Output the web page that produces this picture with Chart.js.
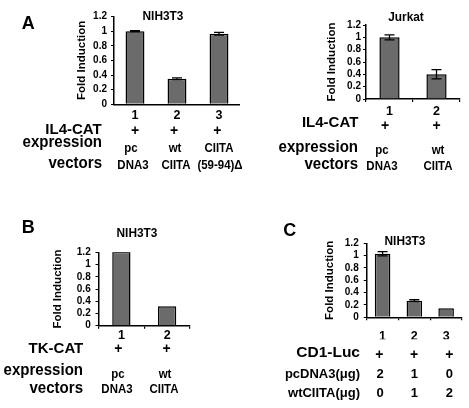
<!DOCTYPE html>
<html><head><meta charset="utf-8">
<script src="https://cdn.jsdelivr.net/npm/chart.js@4.4.1/dist/chart.umd.min.js"></script>
<style>
html,body{margin:0;padding:0;background:#fff;}
#fig{position:relative;width:469px;height:408px;overflow:hidden;background:#fff;font-family:"Liberation Sans",Arial,Helvetica,sans-serif;font-weight:bold;color:#000;}
#fig canvas{position:absolute;}
.t{position:absolute;white-space:nowrap;}
</style></head><body><div id="fig"></div>
<script>
// ---------------- data ----------------
const yTickLabels = ['0','0.2','0.4','0.6','0.8','1','1.2'];

const a1Labels = ['1','2','3'];
const a1Values = [1.0, 0.35, 0.965];
const a1Errors = [0.005, 0.012, 0.018];
const a1RowHeader = 'IL4-CAT';
const a1Plus = ['+','+','+'];
const a1VecTop = ['pc','wt','CIITA'];
const a1VecBottom = ['DNA3','CIITA','(59-94)Δ'];

const a2Labels = ['1','2'];
const a2Values = [1.0, 0.40];
const a2Errors = [0.04, 0.075];
const a2RowHeader = 'IL4-CAT';
const a2Plus = ['+','+'];
const a2VecTop = ['pc','wt'];
const a2VecBottom = ['DNA3','CIITA'];

const bLabels = ['1','2'];
const bValues = [1.21, 0.32];
const bErrors = [0, 0];
const bRowHeader = 'TK-CAT';
const bPlus = ['+','+'];
const bVecTop = ['pc','wt'];
const bVecBottom = ['DNA3','CIITA'];

const cLabels = ['1','2','3'];
const cValues = [1.03, 0.27, 0.145];
const cErrors = [0.035, 0.015, 0];
const cRowHeader = 'CD1-Luc';
const cPlus = ['+','+','+'];
const cPcDNA3 = ['2','1','0'];
const cWtCIITA = ['0','1','2'];

const yTitle = 'Fold Induction';

// ---------------- drawing ----------------
const fig = document.getElementById('fig');
Chart.defaults.font.family = '"Liberation Sans", Arial, Helvetica, sans-serif';

function txt(s, x, base, size, align, sx) {
  sx = sx || 1;
  const d = document.createElement('div');
  d.className = 't';
  d.textContent = s;
  d.style.fontSize = size + 'px';
  d.style.lineHeight = size + 'px';
  d.style.top = (base - 0.846 * size) + 'px';
  d.style.left = x + 'px';
  let tx = 0, ox = '0%';
  if (align === 'center') { tx = -50; ox = '50%'; }
  else if (align === 'right') { tx = -100; ox = '100%'; }
  d.style.transformOrigin = ox + ' 0';
  d.style.transform = 'translateX(' + tx + '%) scaleX(' + sx + ')';
  fig.appendChild(d);
}
function row(arr, xs, base, size, sx) { arr.forEach((s, i) => txt(s, xs[i], base, size, 'center', sx)); }

const errorBarPlugin = {
  id: 'errbars',
  afterDatasetsDraw(chart) {
    const ds = chart.data.datasets[0];
    const meta = chart.getDatasetMeta(0);
    const ys = chart.scales.y;
    const ctx = chart.ctx;
    ctx.save();
    ctx.strokeStyle = '#000';
    ctx.lineWidth = 1.3;
    meta.data.forEach((bar, i) => {
      const e = ds.errorBars ? ds.errorBars[i] : 0;
      if (!e) return;
      const v = ds.data[i];
      const yt = ys.getPixelForValue(v + e), yb = ys.getPixelForValue(v - e);
      const cw = 5;
      ctx.beginPath();
      ctx.moveTo(bar.x, yt); ctx.lineTo(bar.x, yb);
      ctx.moveTo(bar.x - cw, yt); ctx.lineTo(bar.x + cw, yt);
      ctx.moveTo(bar.x - cw, yb); ctx.lineTo(bar.x + cw, yb);
      ctx.stroke();
    });
    ctx.restore();
  }
};

function panel(cfg) {
  const c = document.createElement('canvas');
  c.width = cfg.box.w; c.height = cfg.box.h;
  c.style.left = cfg.box.x + 'px'; c.style.top = cfg.box.y + 'px';
  c.style.width = cfg.box.w + 'px'; c.style.height = cfg.box.h + 'px';
  fig.appendChild(c);
  const a = cfg.area;
  const L = a.left - cfg.box.x, T = a.top - cfg.box.y, R = a.right - cfg.box.x, B = a.bottom - cfg.box.y;
  const tSize = 11.5;
  const yW = L - (cfg.yTitleX - cfg.box.x) + tSize * 1.2 / 2;
  const xH = 22;
  return new Chart(c, {
    type: 'bar',
    data: { labels: cfg.labels, datasets: [{
      data: cfg.values, errorBars: cfg.errors,
      backgroundColor: '#6b6b6b', borderColor: '#000', borderWidth: 1.5,
      barPercentage: cfg.barPct, categoryPercentage: 1 }] },
    options: {
      responsive: false, animation: false, devicePixelRatio: 1,
      layout: { padding: { left: L - yW, top: T, right: cfg.box.w - R, bottom: cfg.box.h - B - xH } },
      plugins: { legend: { display: false }, tooltip: { enabled: false }, title: { display: false } },
      scales: {
        x: {
          grid: { display: cfg.xTick > 0, drawOnChartArea: false, drawTicks: cfg.xTick > 0, tickLength: cfg.xTick, color: '#000', lineWidth: 1.2 },
          border: { display: true, color: '#000', width: 1.5 },
          ticks: { color: '#000', padding: cfg.xPad, maxRotation: 0, autoSkip: false, font: { size: 12.5, weight: 'bold', lineHeight: 1 } },
          afterFit: s => { s.height = xH; }
        },
        y: {
          min: 0, max: 1.2,
          ticks: { stepSize: 0.2, autoSkip: false, color: '#000', padding: cfg.yPad, font: { size: 10, weight: 'bold', lineHeight: 1 },
                   callback: v => yTickLabels[Math.round(v * 5)] },
          grid: { drawOnChartArea: false, drawTicks: true, tickLength: 3, color: '#000', lineWidth: 1 },
          border: { display: true, color: '#000', width: 1.5 },
          title: { display: true, text: yTitle, color: '#000', padding: 0, font: { size: tSize, weight: 'bold' } },
          afterFit: s => { s.width = yW; }
        }
      }
    },
    plugins: [errorBarPlugin]
  });
}

// Panel A left (NIH3T3)
panel({ box: {x:0, y:0, w:240, h:200}, area: {left:114, top:16.5, right:240, bottom:104.3},
  yTitleX: 82, labels: a1Labels, values: a1Values, errors: a1Errors, barPct: 0.45, xTick: 0, xPad: 5.4, yPad: 4 });
// Panel A right (Jurkat)
panel({ box: {x:240, y:0, w:229, h:200}, area: {left:366, top:25, right:460, bottom:99},
  yTitleX: 332, labels: a2Labels, values: a2Values, errors: a2Errors, barPct: 0.43, xTick: 3, xPad: 3, yPad: 2 });
// Panel B
panel({ box: {x:0, y:200, w:240, h:208}, area: {left:98.5, top:252.3, right:190, bottom:325.7},
  yTitleX: 58.3, labels: bLabels, values: bValues, errors: bErrors, barPct: 0.40, xTick: 3, xPad: 0.3, yPad: 4.8 });
// Panel C
panel({ box: {x:240, y:200, w:229, h:208}, area: {left:366.7, top:243.3, right:462, bottom:317.3},
  yTitleX: 330, labels: cLabels, values: cValues, errors: cErrors, barPct: 0.49, xTick: 3, xPad: 9.5, yPad: 5 });

// panel letters
txt('A', 21.7, 29.3, 18, 'left');
txt('B', 21.7, 233.3, 18, 'left');
txt('C', 283.3, 236, 18, 'left');
// chart titles
txt('NIH3T3', 163, 21, 12.5, 'center', 0.95);
txt('Jurkat', 405.5, 21.7, 12.5, 'center', 0.95);
txt('NIH3T3', 136.7, 237.3, 12.5, 'center', 0.95);
txt('NIH3T3', 405, 246, 12.5, 'center', 0.95);

const vs = 13.5, vx = 0.85;
// A left rows
txt(a1RowHeader, 101.7, 133.3, 15, 'right');
row(a1Plus, [135, 174, 217.3], 134.6, 14);
txt('expression', 101.7, 147.7, 16, 'right', 0.94);
txt('vectors', 101.7, 169, 16, 'right', 0.94);
row(a1VecTop, [131, 175, 219], 152.3, vs, vx);
row(a1VecBottom, [133.3, 176, 220], 169, vs, vx);

// A right rows
txt(a2RowHeader, 358.3, 126.7, 15, 'right');
row(a2Plus, [385, 436.7], 129.4, 14);
txt('expression', 358.3, 153, 16, 'right', 0.94);
txt('vectors', 358.3, 170, 16, 'right', 0.94);
row(a2VecTop, [382, 438.3], 154.5, vs, vx);
row(a2VecBottom, [382, 438], 170, vs, vx);

// B rows
txt(bRowHeader, 83.3, 352.3, 15, 'right');
row(bPlus, [118.3, 166.7], 352.9, 14);
txt('expression', 83.3, 376, 16, 'right', 0.94);
txt('vectors', 83.3, 393.3, 16, 'right', 0.94);
row(bVecTop, [117.5, 165], 378, vs, vx);
row(bVecBottom, [116.7, 164], 393.3, vs, vx);

// C rows
txt(cRowHeader, 360, 357.3, 15.5, 'right');
row(cPlus, [379.3, 414, 449.3], 358.6, 14);
txt('pcDNA3(μg)', 360, 377.5, 13, 'right');
row(cPcDNA3, [380, 414.3, 449.3], 377.5, 13);
txt('wtCIITA(μg)', 360, 397.3, 13, 'right');
row(cWtCIITA, [380, 414.3, 449.3], 397.3, 13);
</script>
</body></html>
